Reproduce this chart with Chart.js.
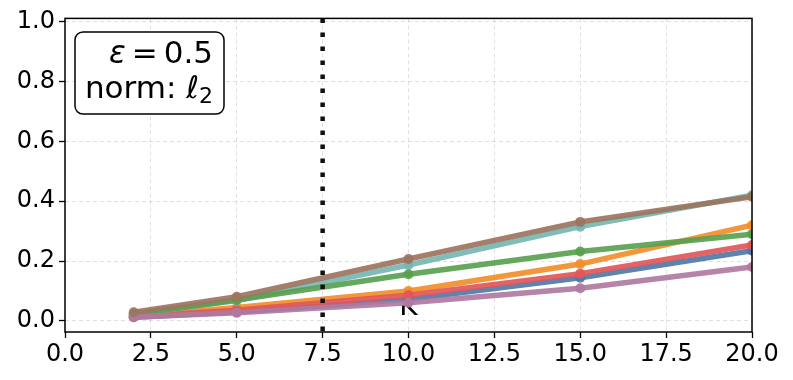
<!DOCTYPE html>
<html>
<head>
<meta charset="utf-8">
<script src="https://cdn.jsdelivr.net/npm/chart.js@4"></script>
<style>
  html, body { margin: 0; padding: 0; background: #fff; }
  #wrap { width: 793px; height: 380px; }
</style>
</head>
<body>
<div id="wrap"><canvas id="chart" width="793" height="380"></canvas></div>
<script>
// valores
const kValues = [2, 5, 10, 15, 20];
const xTicks = [0, 2.5, 5, 7.5, 10, 12.5, 15, 17.5, 20];
const yTicks = [0, 0.2, 0.4, 0.6, 0.8, 1.0];

const serieAzul    = [0.012, 0.030, 0.072, 0.144, 0.235];
const serieNaranja = [0.016, 0.045, 0.100, 0.190, 0.320];
const serieRoja    = [0.015, 0.036, 0.086, 0.158, 0.254];
const serieTurquesa= [0.022, 0.068, 0.187, 0.315, 0.420];
const serieVerde   = [0.022, 0.070, 0.156, 0.232, 0.290];
const serieMorada  = [0.012, 0.027, 0.061, 0.109, 0.180];
const serieMarron  = [0.029, 0.081, 0.207, 0.331, 0.415];

const kLine = 7.5;

const series = [
  { data: serieAzul,     color: 'rgba(78,121,167,0.92)' },
  { data: serieNaranja,  color: 'rgba(242,142,43,0.92)' },
  { data: serieRoja,     color: 'rgba(225,87,89,0.92)' },
  { data: serieTurquesa, color: 'rgba(118,183,178,0.92)' },
  { data: serieVerde,    color: 'rgba(89,161,79,0.92)' },
  { data: serieMorada,   color: 'rgba(176,122,161,0.92)' },
  { data: serieMarron,   color: 'rgba(156,117,95,0.92)' }
];

// Chart.js dibuja el dataset 0 encima, asi que invertimos
const datasets = series.map(s => ({
  data: kValues.map((k, i) => ({ x: k, y: s.data[i] })),
  borderColor: s.color,
  backgroundColor: s.color,
  borderWidth: 5.5,
  pointRadius: 5,
  pointHoverRadius: 5,
  pointBorderWidth: 0,
  clip: 0,
  tension: 0
})).reverse();

const font = "'DejaVu Sans', sans-serif";

// etiqueta K, la linea punteada, el marco y el cuadro de texto
const extras = {
  id: 'extras',
  beforeDatasetsDraw(chart) {
    const ctx = chart.ctx;
    const xs = chart.scales.x;
    ctx.save();
    // solo se ve la parte de abajo de la K
    ctx.beginPath();
    ctx.rect(xs.left, 305, xs.right - xs.left, 20);
    ctx.clip();
    ctx.fillStyle = '#000';
    ctx.font = '28px ' + font;
    ctx.textAlign = 'center';
    ctx.textBaseline = 'alphabetic';
    ctx.fillText('K', xs.getPixelForValue(10), 315);
    ctx.restore();
  },
  afterDatasetsDraw(chart) {
    const ctx = chart.ctx;
    const a = chart.chartArea;
    const xs = chart.scales.x;
    ctx.save();
    // linea vertical punteada
    const px = xs.getPixelForValue(kLine);
    ctx.strokeStyle = '#111';
    ctx.lineWidth = 4.5;
    ctx.setLineDash([4.5, 9.5]);
    ctx.beginPath();
    ctx.moveTo(px, a.top);
    ctx.lineTo(px, a.bottom);
    ctx.stroke();
    ctx.setLineDash([]);

    // marco
    ctx.strokeStyle = '#000';
    ctx.lineWidth = 1.5;
    ctx.strokeRect(a.left, a.top, a.right - a.left, a.bottom - a.top);

    // cuadro de texto
    const bx = 75, by = 32, bw = 149, bh = 82, r = 8;
    ctx.beginPath();
    ctx.roundRect(bx, by, bw, bh, r);
    ctx.fillStyle = '#fff';
    ctx.fill();
    ctx.lineWidth = 1.5;
    ctx.strokeStyle = '#000';
    ctx.stroke();

    ctx.fillStyle = '#000';
    ctx.textBaseline = 'alphabetic';
    ctx.textAlign = 'left';
    const right = 213;
    // linea 1: eps = 0.5
    const f1 = '31px ' + font, f1i = 'italic 31px ' + font;
    ctx.font = f1;
    const wNum = ctx.measureText('0.5').width;
    const wEq = ctx.measureText('=').width;
    ctx.font = f1i;
    const wEps = ctx.measureText('ε').width;
    const gap = 6;
    let x = right - wNum;
    ctx.font = f1;
    ctx.fillText('0.5', x, 63);
    x -= gap + wEq;
    ctx.fillText('=', x, 63);
    x -= gap + wEps;
    ctx.font = f1i;
    ctx.fillText('ε', x, 63);

    // linea 2: norm: l_2
    const fSub = '22px ' + font;
    ctx.font = fSub;
    const wSub = ctx.measureText('2').width;
    ctx.font = f1i;
    const wEll = ctx.measureText('ℓ').width;
    ctx.font = f1;
    const wNorm = ctx.measureText('norm: ').width;
    x = right - wSub - wEll - wNorm;
    ctx.fillText('norm: ', x, 98);
    x += wNorm;
    ctx.font = f1i;
    ctx.fillText('ℓ', x, 98);
    x += wEll;
    ctx.font = fSub;
    ctx.fillText('2', x, 103);
    ctx.restore();
  }
};

const gridOpts = {
  color: 'rgba(0,0,0,0.12)',
  lineWidth: 1,
  tickColor: '#000',
  tickBorderDash: [],
  tickWidth: 1.3,
  tickLength: 6
};

new Chart(document.getElementById('chart'), {
  type: 'line',
  data: { datasets: datasets },
  plugins: [extras],
  options: {
    responsive: false,
    animation: false,
    events: [],
    layout: { padding: { top: 18, right: 41, left: 0, bottom: 0 } },
    plugins: { legend: { display: false }, tooltip: { enabled: false } },
    scales: {
      x: {
        type: 'linear',
        min: 0,
        max: 20,
        afterBuildTicks: s => { s.ticks = xTicks.map(v => ({ value: v })); },
        afterFit: s => { s.height = 48; },
        ticks: {
          color: '#000',
          font: { family: font, size: 24 },
          padding: 2,
          maxRotation: 0,
          autoSkip: false,
          callback: v => v.toFixed(1)
        },
        grid: gridOpts,
        border: { display: false, dash: [4, 3] }
      },
      y: {
        min: -0.037,
        max: 1.011,
        afterBuildTicks: s => { s.ticks = yTicks.map(v => ({ value: v })); },
        afterFit: s => { s.width = 65; },
        ticks: {
          color: '#000',
          font: { family: font, size: 24 },
          padding: 4,
          autoSkip: false,
          callback: v => v.toFixed(1)
        },
        grid: gridOpts,
        border: { display: false, dash: [4, 3] }
      }
    }
  }
});
</script>
</body>
</html>
